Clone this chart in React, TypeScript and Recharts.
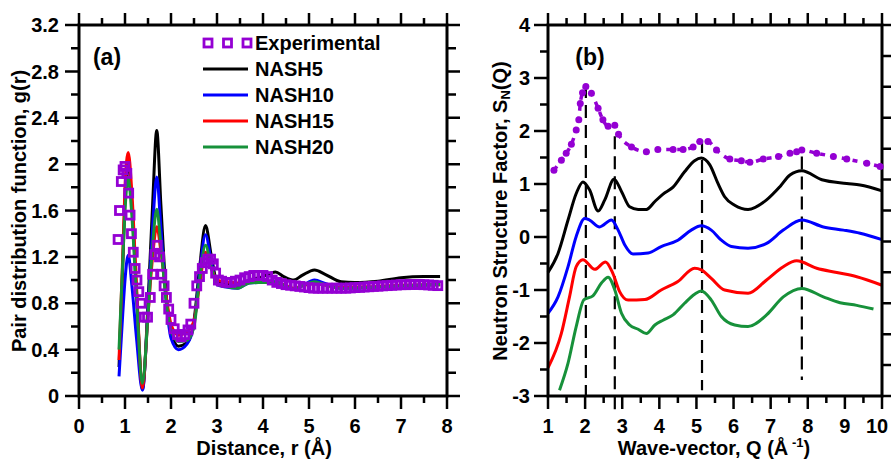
import React from 'react';
import { LineChart, Line, XAxis, YAxis, ReferenceLine, Legend } from 'recharts';

// ---------- Panel (a): pair distribution function ----------
const rSim = [0.87, 0.95, 1.0, 1.07, 1.15, 1.25, 1.38, 1.5, 1.6, 1.69, 1.78, 1.9, 2.0, 2.16, 2.35, 2.5, 2.62, 2.75, 2.88, 3.0, 3.2, 3.45, 3.7, 4.0, 4.27, 4.45, 4.67, 4.85, 5.12, 5.35, 5.7, 6.0, 6.5, 7.0, 7.5, 7.85];
const gNASH5 = [0.25, 1.1, 1.7, 2.0, 1.65, 0.9, 0.06, 0.8, 1.65, 2.29, 1.65, 0.85, 0.55, 0.43, 0.46, 0.65, 1.1, 1.47, 1.2, 0.99, 0.97, 0.955, 1.0, 1.03, 1.07, 1.03, 1.0, 1.04, 1.087, 1.05, 0.985, 0.978, 0.99, 1.02, 1.03, 1.03];
const gNASH10 = [0.17, 0.7, 1.0, 1.215, 0.95, 0.5, 0.05, 0.75, 1.45, 1.89, 1.45, 0.8, 0.5, 0.4, 0.45, 0.62, 1.05, 1.39, 1.15, 0.96, 0.94, 0.93, 0.975, 0.98, 0.985, 0.96, 0.92, 0.95, 1.0, 0.97, 0.93, 0.93, 0.94, 0.95, 0.955, 0.96];
const gNASH15 = [0.31, 1.2, 1.8, 2.1, 1.75, 0.95, 0.07, 0.7, 1.2, 1.46, 1.25, 0.85, 0.62, 0.525, 0.555, 0.65, 0.95, 1.24, 1.1, 1.0, 0.985, 0.975, 0.99, 0.98, 0.975, 0.96, 0.93, 0.95, 0.97, 0.955, 0.935, 0.94, 0.945, 0.955, 0.96, 0.96];
const gNASH20 = [0.4, 1.15, 1.6, 1.88, 1.55, 0.85, 0.11, 0.7, 1.3, 1.61, 1.3, 0.8, 0.57, 0.47, 0.48, 0.6, 1.0, 1.3, 1.1, 0.965, 0.945, 0.93, 0.975, 0.98, 0.985, 0.955, 0.92, 0.95, 0.985, 0.96, 0.928, 0.932, 0.94, 0.948, 0.958, 0.963];

const rExp = [0.85, 0.88, 0.92, 0.96, 1.0, 1.04, 1.08, 1.11, 1.14, 1.18, 1.22, 1.26, 1.3, 1.35, 1.42, 1.49, 1.55, 1.6, 1.65, 1.7, 1.75, 1.8, 1.85, 1.9, 1.95, 2.0, 2.07, 2.14, 2.22, 2.3, 2.37, 2.43, 2.5, 2.56, 2.62, 2.68, 2.74, 2.8, 2.86, 2.92, 2.97, 3.03, 3.1, 3.2, 3.3, 3.4, 3.5, 3.6, 3.7, 3.8, 3.9, 4.0, 4.1, 4.2, 4.3, 4.4, 4.5, 4.6, 4.7, 4.8, 4.9, 5.0, 5.1, 5.2, 5.3, 5.4, 5.5, 5.6, 5.7, 5.8, 5.9, 6.0, 6.1, 6.2, 6.3, 6.4, 6.5, 6.6, 6.7, 6.8, 6.9, 7.0, 7.1, 7.2, 7.3, 7.4, 7.5, 7.6, 7.7, 7.8];
const gExp = [1.35, 1.6, 1.85, 1.95, 1.98, 1.92, 1.75, 1.56, 1.4, 1.24, 1.1, 1.0, 0.9, 0.8, 0.68, 0.68, 0.85, 1.05, 1.22, 1.3, 1.2, 1.05, 0.95, 0.85, 0.75, 0.66, 0.58, 0.53, 0.51, 0.53, 0.57, 0.62, 0.8, 0.95, 1.03, 1.1, 1.15, 1.18, 1.18, 1.14, 1.06, 1.0, 0.99, 0.98, 0.98, 0.99, 1.0, 1.02, 1.03, 1.04, 1.04, 1.04, 1.03, 1.0, 0.98, 0.97, 0.96, 0.955, 0.95, 0.945, 0.94, 0.935, 0.93, 0.93, 0.93, 0.93, 0.93, 0.93, 0.93, 0.93, 0.932, 0.935, 0.937, 0.94, 0.942, 0.945, 0.947, 0.95, 0.952, 0.955, 0.957, 0.96, 0.96, 0.962, 0.962, 0.962, 0.96, 0.958, 0.955, 0.952];

const xTicksA = [0, 0.5, 1, 1.5, 2, 2.5, 3, 3.5, 4, 4.5, 5, 5.5, 6, 6.5, 7, 7.5, 8];
const xMajorsA = [0, 1, 2, 3, 4, 5, 6, 7, 8];
const yTicksA = [0, 0.2, 0.4, 0.6, 0.8, 1, 1.2, 1.4, 1.6, 1.8, 2, 2.2, 2.4, 2.6, 2.8, 3, 3.2];
const yMajorsA = [0, 0.4, 0.8, 1.2, 1.6, 2, 2.4, 2.8, 3.2];
const xDomainA = [0, 8];
const yDomainA = [0, 3.2];

// ---------- Panel (b): neutron structure factor ----------
const qExp = [1.16, 1.36, 1.49, 1.63, 1.76, 1.83, 1.87, 1.93, 2.02, 2.17, 2.35, 2.48, 2.62, 2.8, 2.9, 3.25, 3.65, 3.96, 4.37, 4.64, 4.91, 5.09, 5.31, 5.54, 5.9, 6.21, 6.44, 6.8, 7.21, 7.52, 7.7, 7.84, 8.24, 8.69, 9.05, 9.59, 9.95];
const sExp = [1.26, 1.45, 1.58, 1.75, 2.02, 2.21, 2.52, 2.72, 2.84, 2.71, 2.43, 2.21, 2.09, 2.11, 1.94, 1.7, 1.61, 1.65, 1.65, 1.65, 1.7, 1.8, 1.8, 1.64, 1.47, 1.44, 1.41, 1.47, 1.52, 1.58, 1.61, 1.64, 1.58, 1.52, 1.47, 1.39, 1.33];
const qNASH5 = [1.0, 1.27, 1.54, 1.76, 1.94, 2.12, 2.35, 2.53, 2.78, 2.98, 3.2, 3.43, 3.65, 3.88, 4.1, 4.37, 4.68, 4.95, 5.13, 5.36, 5.58, 5.76, 6.03, 6.39, 6.89, 7.25, 7.52, 7.84, 8.38, 9.05, 9.41, 10.0];
const sNASH5 = [-0.67, -0.31, 0.32, 0.82, 1.04, 0.89, 0.49, 0.7, 1.09, 0.86, 0.57, 0.52, 0.52, 0.67, 0.81, 0.94, 1.23, 1.44, 1.49, 1.36, 1.01, 0.76, 0.6, 0.52, 0.7, 0.95, 1.17, 1.25, 1.08, 1.01, 0.98, 0.87];
const qNASH10 = [1.0, 1.27, 1.54, 1.76, 1.99, 2.12, 2.39, 2.71, 2.89, 3.07, 3.29, 3.7, 4.05, 4.5, 4.86, 5.13, 5.4, 5.67, 5.94, 6.39, 6.89, 7.34, 7.84, 8.42, 8.96, 9.41, 10.0];
const sNASH10 = [-1.44, -1.13, -0.56, 0.01, 0.35, 0.32, 0.19, 0.32, 0.13, -0.15, -0.32, -0.3, -0.18, -0.06, 0.13, 0.21, 0.13, -0.06, -0.18, -0.21, -0.12, 0.13, 0.32, 0.19, 0.13, 0.07, -0.05];
const qNASH15 = [1.0, 1.36, 1.58, 1.76, 1.94, 2.26, 2.55, 2.75, 2.93, 3.16, 3.61, 4.05, 4.5, 4.95, 5.13, 5.4, 5.76, 6.39, 6.89, 7.34, 7.7, 8.24, 8.78, 9.32, 10.0];
const sNASH15 = [-2.47, -1.82, -1.13, -0.56, -0.43, -0.61, -0.47, -0.69, -1.03, -1.19, -1.18, -1.0, -0.84, -0.59, -0.62, -0.78, -1.0, -1.06, -0.81, -0.56, -0.45, -0.59, -0.67, -0.75, -0.91];
const qNASH20 = [1.31, 1.54, 1.76, 1.97, 2.21, 2.44, 2.62, 2.8, 2.98, 3.2, 3.43, 3.65, 3.88, 4.1, 4.37, 4.68, 4.95, 5.13, 5.4, 5.67, 6.03, 6.39, 6.89, 7.34, 7.84, 8.42, 8.87, 9.32, 9.77];
const sNASH20 = [-2.89, -2.38, -1.69, -1.18, -1.11, -0.87, -0.76, -1.0, -1.44, -1.66, -1.74, -1.82, -1.66, -1.57, -1.47, -1.25, -1.08, -1.02, -1.19, -1.5, -1.66, -1.69, -1.47, -1.13, -0.97, -1.13, -1.24, -1.29, -1.36];

const peakQ = [2.02, 2.8, 5.15, 7.84];
const peakTop = [2.87, 1.9, 1.83, 1.52];
const peakBottom = [-3, -3.27, -2.89, -2.7];

const xTicksB = [1, 1.5, 2, 2.5, 3, 3.5, 4, 4.5, 5, 5.5, 6, 6.5, 7, 7.5, 8, 8.5, 9, 9.5, 10];
const xMajorsB = [1, 2, 3, 4, 5, 6, 7, 8, 9, 10];
const yTicksB = [-3, -2.5, -2, -1.5, -1, -0.5, 0, 0.5, 1, 1.5, 2, 2.5, 3, 3.5, 4];
const yMajorsB = [-3, -2, -1, 0, 1, 2, 3, 4];
const rightTicksB = [0, 1, 2, 3, 4, 5, 6, 7, 8, 9, 10, 11, 12];
const rightDomainB = [0, 12];
const xDomainB = [1, 10];
const yDomainB = [-3, 4];

// ---------- layout / styling ----------
const FONT = '"Liberation Sans", Arial, Helvetica, sans-serif';
const PURPLE = '#9400D3';
const C5 = '#000000';
const C10 = '#0000FF';
const C15 = '#FF0000';
const C20 = '#17913A';

const CH = 459;
const TOP = 25;
const BOTTOM = 396;
const A_X0 = 0, A_W = 470, A_LEFT = 79, A_RIGHT = 447;
const B_X0 = 470, B_W = 421, B_LEFT = 78, B_RIGHT = 412;

const seriesA = [
  { key: 'n5', name: 'NASH5', color: C5 },
  { key: 'n10', name: 'NASH10', color: C10 },
  { key: 'n15', name: 'NASH15', color: C15 },
  { key: 'n20', name: 'NASH20', color: C20 },
];

const simA = rSim.map((r, i) => ({ r, n5: gNASH5[i], n10: gNASH10[i], n15: gNASH15[i], n20: gNASH20[i] }));
const expA = rExp.map((r, i) => ({ r, g: gExp[i] }));
const zipQ = (qs: number[], ss: number[]) => qs.map((q, i) => ({ q, s: ss[i] }));
const expB = zipQ(qExp, sExp);
const n5B = zipQ(qNASH5, sNASH5);
const n10B = zipQ(qNASH10, sNASH10);
const n15B = zipQ(qNASH15, sNASH15);
const n20B = zipQ(qNASH20, sNASH20);

// plot frame drawn through the chart's own scales (corners of each domain box)
const boxA = [
  { r: xDomainA[0], fy: yDomainA[0] }, { r: xDomainA[1], fy: yDomainA[0] },
  { r: xDomainA[1], fy: yDomainA[1] }, { r: xDomainA[0], fy: yDomainA[1] }, { r: xDomainA[0], fy: yDomainA[0] },
];
const boxB = [
  { q: xDomainB[0], fy: yDomainB[0] }, { q: xDomainB[1], fy: yDomainB[0] },
  { q: xDomainB[1], fy: yDomainB[1] }, { q: xDomainB[0], fy: yDomainB[1] }, { q: xDomainB[0], fy: yDomainB[0] },
];

const LABEL = { fontFamily: FONT, fontWeight: 'bold' as const, fontSize: 20, fill: '#000' };
const isIn = (list: number[], v: number) => list.some((m) => Math.abs(m - v) < 1e-9);

function xLabel(majors: number[], lastShift: number) {
  return (props: any) => {
    const v = Number(props.payload.value);
    if (!isIn(majors, v)) return <g />;
    const x = Number(props.x) + (v === majors[majors.length - 1] ? lastShift : 0);
    return <text x={x} y={Number(props.y) + 37} textAnchor="middle" {...LABEL}>{String(v)}</text>;
  };
}
function yLabel(majors: number[], gap: number) {
  return (props: any) => {
    const v = Number(props.payload.value);
    if (!isIn(majors, v)) return <g />;
    return <text x={Number(props.x) - gap} y={Number(props.y)} dy="0.36em" textAnchor="end" {...LABEL}>{String(v)}</text>;
  };
}

type FrameOpts = {
  x0: number; width: number; left: number; right: number; xd: number[]; yd: number[];
  xTicks: number[]; xMajors: number[]; yTicks: number[]; yMajors: number[];
  rightTicks: number[] | null; rightDomain: number[] | null; rightMajorLen: number; rightMinorLen: number;
};
function FrameOverlay(o: FrameOpts) {
  const sx = (v: number) => o.left + ((v - o.xd[0]) / (o.xd[1] - o.xd[0])) * (o.right - o.left);
  const syD = (v: number, d: number[]) => BOTTOM - ((v - d[0]) / (d[1] - d[0])) * (BOTTOM - TOP);
  const parts: string[] = [];
  o.xTicks.forEach((v) => {
    const M = isIn(o.xMajors, v);
    const x = sx(v);
    parts.push(`M${x},${BOTTOM}L${x},${BOTTOM + (M ? 13 : 7)}`);
    parts.push(`M${x},${TOP}L${x},${TOP - (M ? 12 : 7)}`);
  });
  o.yTicks.forEach((v) => {
    const M = isIn(o.yMajors, v);
    const y = syD(v, o.yd);
    parts.push(`M${o.left},${y}L${o.left - (M ? 14 : 8)},${y}`);
    if (!o.rightTicks) parts.push(`M${o.right},${y}L${o.right + (M ? o.rightMajorLen : o.rightMinorLen)},${y}`);
  });
  if (o.rightTicks && o.rightDomain) {
    o.rightTicks.forEach((v) => {
      const y = syD(v, o.rightDomain as number[]);
      parts.push(`M${o.right},${y}L${o.right + o.rightMajorLen},${y}`);
    });
  }
  return (
    <svg width={o.width} height={CH}
      style={{ position: 'absolute', left: o.x0, top: 0, pointerEvents: 'none', overflow: 'visible', zIndex: 5 }}>
      <path d={parts.join('')} stroke="#000" strokeWidth={2.5} fill="none" />
    </svg>
  );
}

const squareDot = (p: any) => {
  if (p.cx == null || p.cy == null) return <g key={p.index} />;
  return <rect key={p.index} x={p.cx - 4} y={p.cy - 4} width={8} height={8} fill="none" stroke={PURPLE} strokeWidth={2.8} />;
};

const legendA = () => (
  <svg width={200} height={135} style={{ display: 'block', overflow: 'visible' }}>
    {[0, 1, 2].map((k) => (
      <rect key={k} x={4 + k * 19.5} y={13 - 4} width={8} height={8} fill="none" stroke={PURPLE} strokeWidth={2.8} />
    ))}
    <text x={55} y={13} dy="0.36em" {...LABEL}>Experimental</text>
    {seriesA.map((s, i) => (
      <g key={s.key}>
        <line x1={3} x2={48} y1={39 + i * 26} y2={39 + i * 26} stroke={s.color} strokeWidth={3} />
        <text x={55} y={39 + i * 26} dy="0.36em" {...LABEL}>{s.name}</text>
      </g>
    ))}
  </svg>
);

export default function App() {
  return (
    <div style={{ position: 'absolute', left: 0, top: 0, width: 891, height: 459, background: '#fff' }}>
      <div style={{ position: 'absolute', left: A_X0, top: 0 }}>
        <LineChart width={A_W} height={CH} data={simA} margin={{ top: TOP, right: A_W - A_RIGHT, bottom: 0, left: 0 }}>
          <XAxis dataKey="r" type="number" domain={xDomainA} ticks={xTicksA} interval={0} height={CH - BOTTOM}
            tickSize={0} tickMargin={0} tickLine={false} axisLine={false} tick={xLabel(xMajorsA, 0)} />
          <YAxis type="number" domain={yDomainA} ticks={yTicksA} interval={0} width={A_LEFT}
            tickSize={0} tickMargin={0} tickLine={false} axisLine={false} tick={yLabel(yMajorsA, 20)} />
          <Line data={expA} dataKey="g" name="Experimental" stroke="none" strokeWidth={0}
            dot={squareDot} activeDot={false} isAnimationActive={false} legendType="square" />
          {seriesA.map((s) => (
            <Line key={s.key} dataKey={s.key} name={s.name} type="monotone" stroke={s.color} strokeWidth={3}
              dot={false} activeDot={false} isAnimationActive={false} />
          ))}
          <Line data={boxA} dataKey="fy" name="frame" type="linear" stroke="#000" strokeWidth={3}
            strokeLinejoin="miter" strokeLinecap="square" dot={false} activeDot={false} isAnimationActive={false} legendType="none" />
          <Legend layout="vertical" align="center" verticalAlign="middle" content={legendA}
            wrapperStyle={{ left: 200, top: 30, width: 200, height: 135 }} />
          <text x={19} y={211} transform="rotate(-90 19 211)" textAnchor="middle" dominantBaseline="central" {...LABEL}>
            Pair distribution function, g(r)
          </text>
          <text x={264} y={455} textAnchor="middle" {...LABEL}>Distance, r (Å)</text>
          <text x={107} y={65} textAnchor="middle" {...LABEL} fontSize={23}>(a)</text>
        </LineChart>
      </div>
      <div style={{ position: 'absolute', left: B_X0, top: 0 }}>
        <LineChart width={B_W} height={CH} data={n5B} margin={{ top: TOP, right: B_W - B_RIGHT, bottom: 0, left: 0 }}>
          <XAxis dataKey="q" type="number" domain={xDomainB} ticks={xTicksB} interval={0} height={CH - BOTTOM}
            tickSize={0} tickMargin={0} tickLine={false} axisLine={false} tick={xLabel(xMajorsB, -5)} />
          <YAxis type="number" domain={yDomainB} ticks={yTicksB} interval={0} width={B_LEFT}
            tickSize={0} tickMargin={0} tickLine={false} axisLine={false} tick={yLabel(yMajorsB, 18)} />
          {peakQ.map((q, i) => (
            <ReferenceLine key={q} segment={[{ x: q, y: peakTop[i] }, { x: q, y: peakBottom[i] }]}
              stroke="#000" strokeWidth={2.2} strokeDasharray="13 7" ifOverflow="visible" />
          ))}
          <Line data={expB} dataKey="s" name="Experimental" type="monotone" stroke={PURPLE} strokeWidth={3.5}
            strokeDasharray="5 6" dot={{ r: 3.5, fill: PURPLE, stroke: PURPLE, strokeWidth: 0 }} activeDot={false} isAnimationActive={false} />
          <Line dataKey="s" name="NASH5" type="monotone" stroke={C5} strokeWidth={3} dot={false} activeDot={false} isAnimationActive={false} />
          <Line data={n10B} dataKey="s" name="NASH10" type="monotone" stroke={C10} strokeWidth={3} dot={false} activeDot={false} isAnimationActive={false} />
          <Line data={n15B} dataKey="s" name="NASH15" type="monotone" stroke={C15} strokeWidth={3} dot={false} activeDot={false} isAnimationActive={false} />
          <Line data={n20B} dataKey="s" name="NASH20" type="monotone" stroke={C20} strokeWidth={3} dot={false} activeDot={false} isAnimationActive={false} />
          <Line data={boxB} dataKey="fy" name="frame" type="linear" stroke="#000" strokeWidth={3}
            strokeLinejoin="miter" strokeLinecap="square" dot={false} activeDot={false} isAnimationActive={false} legendType="none" />
          <text x={30} y={211} transform="rotate(-90 30 211)" textAnchor="middle" dominantBaseline="central" {...LABEL}>
            Neutron Structure Factor, S<tspan dy={5} fontSize={13}>N</tspan><tspan dy={-5}>(Q)</tspan>
          </text>
          <text x={244} y={455} textAnchor="middle" {...LABEL}>
            Wave-vector, Q (Å<tspan dy={-8} fontSize={13}> -1</tspan><tspan dy={8}>)</tspan>
          </text>
          <text x={120} y={65} textAnchor="middle" {...LABEL} fontSize={23}>(b)</text>
        </LineChart>
      </div>
      <FrameOverlay x0={A_X0} width={A_W} left={A_LEFT} right={A_RIGHT} xd={xDomainA} yd={yDomainA}
        xTicks={xTicksA} xMajors={xMajorsA} yTicks={yTicksA} yMajors={yMajorsA}
        rightTicks={null} rightDomain={null} rightMajorLen={13} rightMinorLen={9} />
      <FrameOverlay x0={B_X0} width={B_W} left={B_LEFT} right={B_RIGHT} xd={xDomainB} yd={yDomainB}
        xTicks={xTicksB} xMajors={xMajorsB} yTicks={yTicksB} yMajors={yMajorsB}
        rightTicks={rightTicksB} rightDomain={rightDomainB} rightMajorLen={9} rightMinorLen={9} />
    </div>
  );
}
